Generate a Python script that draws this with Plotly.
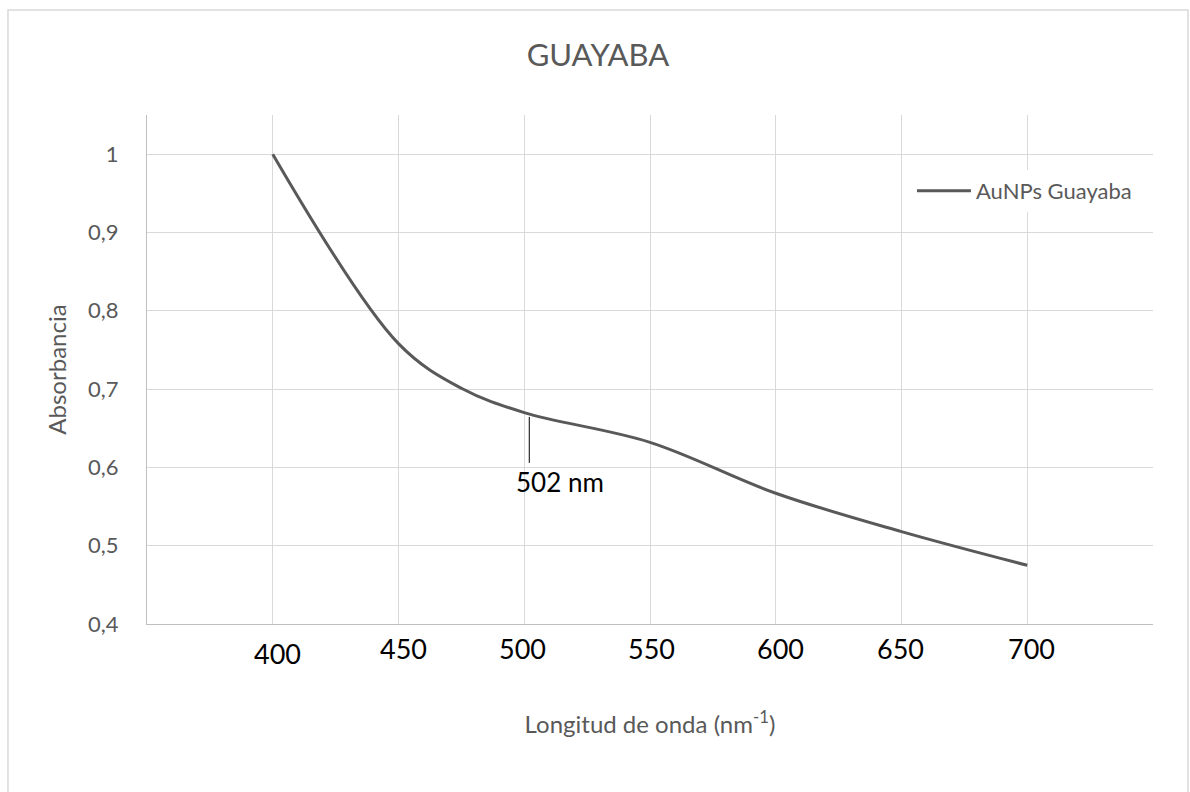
import plotly.graph_objects as go

# UV-Vis spectrum of gold nanoparticles synthesised with guava extract
wavelength_nm = [400, 450, 475, 500, 550, 600, 650, 700]
absorbance = [1.000, 0.758, 0.701, 0.670, 0.632, 0.567, 0.518, 0.475]

peak_nm = 502
peak_abs = 0.667

x_tick_values = [400, 450, 500, 550, 600, 650, 700]
x_tick_text = ["400", "450", "500", "550", "600", "650", "700"]

FONT = "Lato, 'Open Sans', sans-serif"
GREY_TEXT = "#595959"
GRID = "#d9d9d9"
AXIS = "#bfbfbf"

# small nudges for the hand-placed wavelength labels (px)
label_dx = [5, 5, -2, 1, 5, -1, 4]
label_dy = [-29, -24, -24, -24, -24, -24, -24]

fig = go.Figure()

fig.add_trace(go.Scatter(
    x=wavelength_nm,
    y=absorbance,
    mode="lines",
    name="AuNPs Guayaba",
    line=dict(color="#595959", width=3, shape="spline", smoothing=1.0),
))

# leader line and label for the absorbance band
fig.add_shape(
    type="line", xref="x", yref="y",
    x0=peak_nm, x1=peak_nm,
    ysizemode="pixel", yanchor=peak_abs, y0=-2, y1=-48,
    line=dict(color="#000000", width=1),
)
fig.add_annotation(
    x=peak_nm, y=peak_abs, xref="x", yref="y",
    text=f"{peak_nm} nm", showarrow=False,
    xanchor="center", yanchor="middle", xshift=31, yshift=-67,
    font=dict(family=FONT, size=26, color="#000000"),
)

# wavelength tick labels
for v, t, dx, dy in zip(x_tick_values, x_tick_text, label_dx, label_dy):
    fig.add_annotation(
        x=v, y=0, xref="x", yref="paper", text=t, showarrow=False,
        xanchor="center", yanchor="middle", xshift=dx, yshift=dy,
        font=dict(family=FONT, size=27, color="#000000"),
    )

# chart-area border
fig.add_shape(
    type="rect", xref="paper", yref="paper",
    x0=-0.1382, x1=1.0348, y0=-0.36, y1=1.2063,
    line=dict(color=GRID, width=1.5), fillcolor="rgba(0,0,0,0)", layer="below",
)

fig.update_layout(
    width=1190, height=792,
    margin=dict(l=147, r=37, t=115, b=168),
    paper_bgcolor="white", plot_bgcolor="white",
    separators=",.",
    font=dict(family=FONT, color=GREY_TEXT),
    title=dict(
        text="GUAYABA", x=0.5025, xref="container", xanchor="center",
        y=1 - 55 / 792, yref="container", yanchor="middle",
        font=dict(family=FONT, size=31, color=GREY_TEXT),
    ),
    showlegend=True,
    legend=dict(
        x=0.7604, xanchor="left", y=0.851, yanchor="middle",
        bgcolor="white", borderwidth=0,
        font=dict(family=FONT, size=22, color=GREY_TEXT),
        itemwidth=54,
    ),
    xaxis=dict(
        range=[350, 750], dtick=50, tick0=350,
        showticklabels=False, showgrid=True, gridcolor=GRID, gridwidth=1,
        showline=True, linecolor=AXIS, linewidth=1.3, zeroline=False,
        title=dict(text="Longitud de onda (nm<sup>-1</sup>)", standoff=92,
                   font=dict(family=FONT, size=24, color=GREY_TEXT)),
    ),
    yaxis=dict(
        range=[0.4, 1.05], dtick=0.1, tick0=0.4,
        showgrid=True, gridcolor=GRID, gridwidth=1,
        showline=True, linecolor=AXIS, linewidth=1.3, zeroline=False,
        ticklabelstandoff=23,
        tickfont=dict(family=FONT, size=22, color=GREY_TEXT),
        title=dict(text="Absorbancia", standoff=14,
                   font=dict(family=FONT, size=24, color=GREY_TEXT)),
    ),
)

fig.write_html("out.html")
